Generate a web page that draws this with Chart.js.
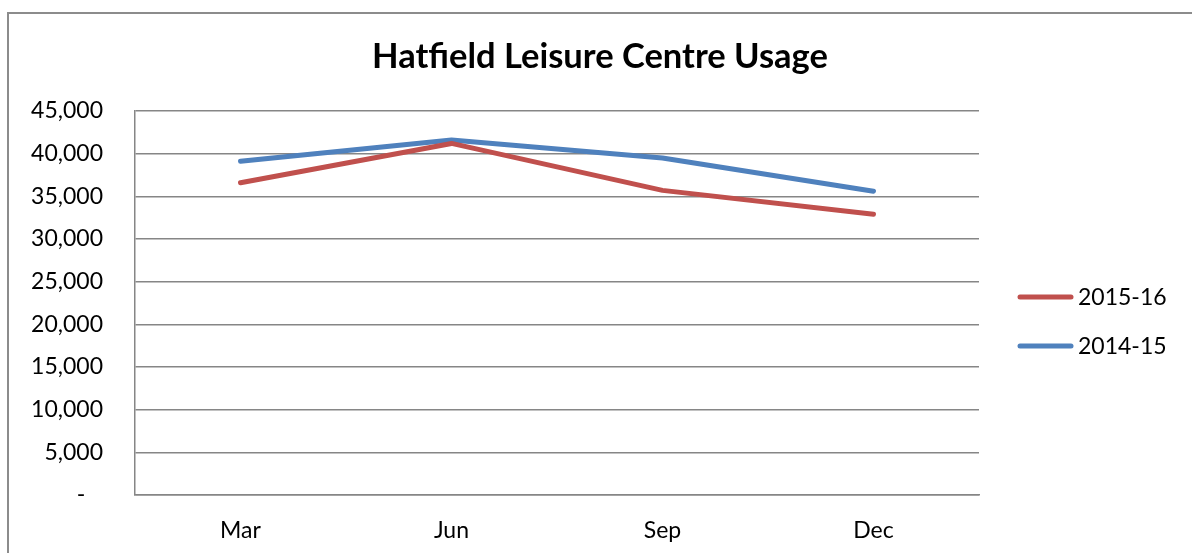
<!DOCTYPE html>
<html>
<head>
<meta charset="utf-8">
<script src="https://cdn.jsdelivr.net/npm/chart.js@4.4.1/dist/chart.umd.min.js"></script>
<style>
  html, body { margin: 0; padding: 0; background: #fff; overflow: hidden; }
  #wrap { position: relative; width: 1192px; height: 553px; }
  #frame { position: absolute; left: 7px; top: 12px; width: 1200px; height: 600px; border: 2px solid #8c8c8c; box-sizing: border-box; }
  canvas { position: absolute; left: 0; top: 0; }
</style>
</head>
<body>
<div id="wrap">
  <div id="frame"></div>
  <canvas id="myChart" width="1192" height="553"></canvas>
</div>
<script>
const months = ['Mar', 'Jun', 'Sep', 'Dec'];
const usage1516 = [36600, 41200, 35700, 32900];
const usage1415 = [39100, 41600, 39500, 35600];
const seriesNames = ['2015-16', '2014-15'];
const yTicks = [0, 5000, 10000, 15000, 20000, 25000, 30000, 35000, 40000, 45000];
const chartTitle = 'Hatfield Leisure Centre Usage';

const font = 'Lato, "Open Sans", sans-serif';
const gridCol = '#868686';

// title + legend drawn by hand so they sit where Excel put them
const extras = {
  id: 'extras',
  afterDraw(chart) {
    const ctx = chart.ctx;
    ctx.save();
    ctx.fillStyle = '#000';
    ctx.font = 'bold 34.5px ' + font;
    ctx.textAlign = 'center';
    ctx.textBaseline = 'middle';
    ctx.fillText(chartTitle, 600, 57);

    const rows = [297, 346];
    ctx.textAlign = 'left';
    chart.data.datasets.forEach(function (ds, i) {
      ctx.strokeStyle = ds.borderColor;
      ctx.lineWidth = 5;
      ctx.lineCap = 'round';
      ctx.beginPath();
      ctx.moveTo(1020, rows[i]);
      ctx.lineTo(1071, rows[i]);
      ctx.stroke();
      ctx.fillStyle = '#000';
      ctx.font = '23px ' + font;
      ctx.fillText(ds.label, 1078, rows[i] + 1);
    });
    ctx.restore();
  }
};

var ctx = document.getElementById('myChart').getContext('2d');
var myChart = new Chart(ctx, {
  type: 'line',
  data: {
    labels: months,
    datasets: [{
      label: seriesNames[0],
      data: usage1516,
      borderColor: '#C0504D',
      borderWidth: 5,
      borderCapStyle: 'round',
      borderJoinStyle: 'round',
      pointRadius: 0,
      tension: 0,
      fill: false
    }, {
      label: seriesNames[1],
      data: usage1415,
      borderColor: '#4F81BD',
      borderWidth: 5,
      borderCapStyle: 'round',
      borderJoinStyle: 'round',
      pointRadius: 0,
      tension: 0,
      fill: false
    }]
  },
  options: {
    responsive: false,
    animation: false,
    layout: { padding: { left: 0, right: 213, top: 111, bottom: 0 } },
    plugins: {
      legend: { display: false },
      tooltip: { enabled: false },
      title: { display: false }
    },
    scales: {
      x: {
        offset: true,
        grid: { display: false, drawTicks: false },
        border: { color: gridCol, width: 1.5 },
        ticks: { color: '#000', font: { family: font, size: 23 }, padding: 22 },
        afterFit(scale) { scale.height = 58; }
      },
      y: {
        min: 0,
        max: 45000,
        afterBuildTicks(scale) { scale.ticks = yTicks.map(v => ({ value: v })); },
        grid: { color: gridCol, lineWidth: 1.5, drawTicks: false },
        border: { color: gridCol, width: 1.5 },
        ticks: {
          color: '#000',
          font: { family: font, size: 23 },
          padding: 32,
          callback: v => v === 0 ? '-   ' : v.toLocaleString('en-US')
        },
        afterFit(scale) { scale.width = 135; }
      }
    }
  },
  plugins: [extras]
});
</script>
</body>
</html>
